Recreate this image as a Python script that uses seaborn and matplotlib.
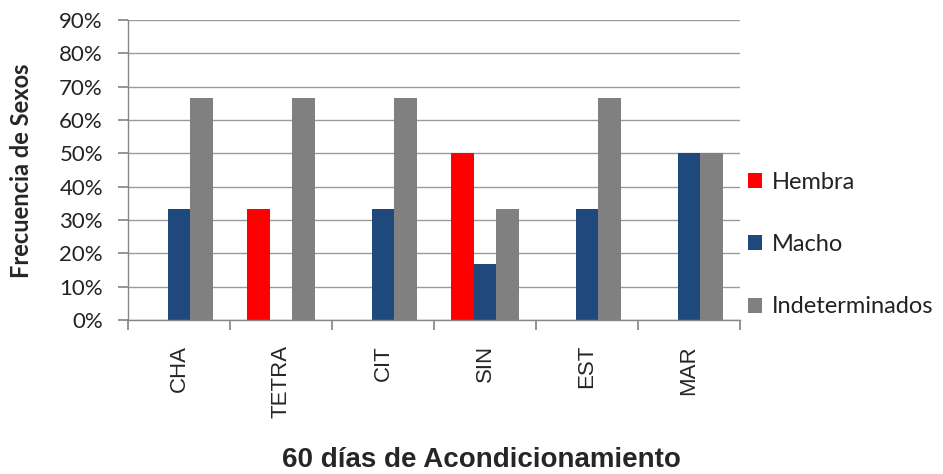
import pandas as pd
import matplotlib.pyplot as plt
import seaborn as sns
import numpy as np
from matplotlib.ticker import PercentFormatter

sns.set_theme(style="white")
plt.rcParams['font.family'] = ['Lato', 'DejaVu Sans']

# datos
tratamientos = ['CHA', 'TETRA', 'CIT', 'SIN', 'EST', 'MAR']
hembra = [0.0, 0.333, 0.0, 0.50, 0.0, 0.0]
macho = [0.333, 0.0, 0.333, 0.167, 0.333, 0.50]
indeterminados = [0.667, 0.667, 0.667, 0.333, 0.667, 0.50]
sexos = ['Hembra', 'Macho', 'Indeterminados']
colores = ['#FF0000', '#1F497D', '#808080']

df = pd.DataFrame({'Tratamiento': tratamientos, 'Hembra': hembra,
                   'Macho': macho, 'Indeterminados': indeterminados})
df_largo = df.melt(id_vars='Tratamiento', var_name='Sexo', value_name='Frecuencia')

fig, ax = plt.subplots(figsize=(9.43, 4.74), dpi=100)
fig.subplots_adjust(left=0.1357, right=0.7847, top=0.958, bottom=0.325)

sns.barplot(data=df_largo, x='Tratamiento', y='Frecuencia', hue='Sexo',
            hue_order=sexos, palette=colores, width=0.66, gap=0,
            saturation=1, edgecolor='none', linewidth=0, ax=ax)

ax.set_ylim(0, 0.9)
ax.set_xlim(-0.5, 5.5)
ax.set_yticks(np.arange(0, 0.91, 0.1))
ax.yaxis.set_major_formatter(PercentFormatter(1.0, decimals=0))
ax.tick_params(axis='y', labelsize=16, length=7, color='#868686',
               left=True, pad=11, labelcolor='#222222')
ax.grid(axis='y', color='#9A9A9A', linewidth=1)
ax.set_axisbelow(True)

# marcas entre categorías, etiquetas centradas
ax.set_xticks(np.arange(-0.5, 6, 1))
ax.set_xticklabels([''] * 7)
ax.set_xticks(range(len(tratamientos)), minor=True)
ax.set_xticklabels(tratamientos, minor=True, rotation=90,
                   family=['Liberation Sans', 'DejaVu Sans'], fontsize=16)
ax.tick_params(axis='x', which='major', length=7, color='#868686', bottom=True)
ax.tick_params(axis='x', which='minor', length=0, pad=18)

for lado in ['top', 'right']:
    ax.spines[lado].set_visible(False)
for lado in ['left', 'bottom']:
    ax.spines[lado].set_color('#868686')
    ax.spines[lado].set_linewidth(1)

ax.set_ylabel('Frecuencia de Sexos', fontsize=17, fontweight='bold')
ax.yaxis.set_label_coords(-0.155, 0.497)

ax.set_xlabel('60 días de Acondicionamiento', fontsize=20, fontweight='bold',
              family=['Liberation Sans', 'DejaVu Sans'])
ax.xaxis.label.set_va('baseline')
ax.xaxis.set_label_coords(0.577, -0.49)

handles, labels = ax.get_legend_handles_labels()
ax.legend_.remove()
fig.legend(handles, labels, loc='center left', bbox_to_anchor=(0.793, 0.484),
           frameon=False, fontsize=17, labelspacing=1.75, handlelength=0.6,
           handleheight=0.6, handletextpad=0.42, borderpad=0, borderaxespad=0,
           labelcolor='#222222')

fig.savefig('out.png', dpi=100)
